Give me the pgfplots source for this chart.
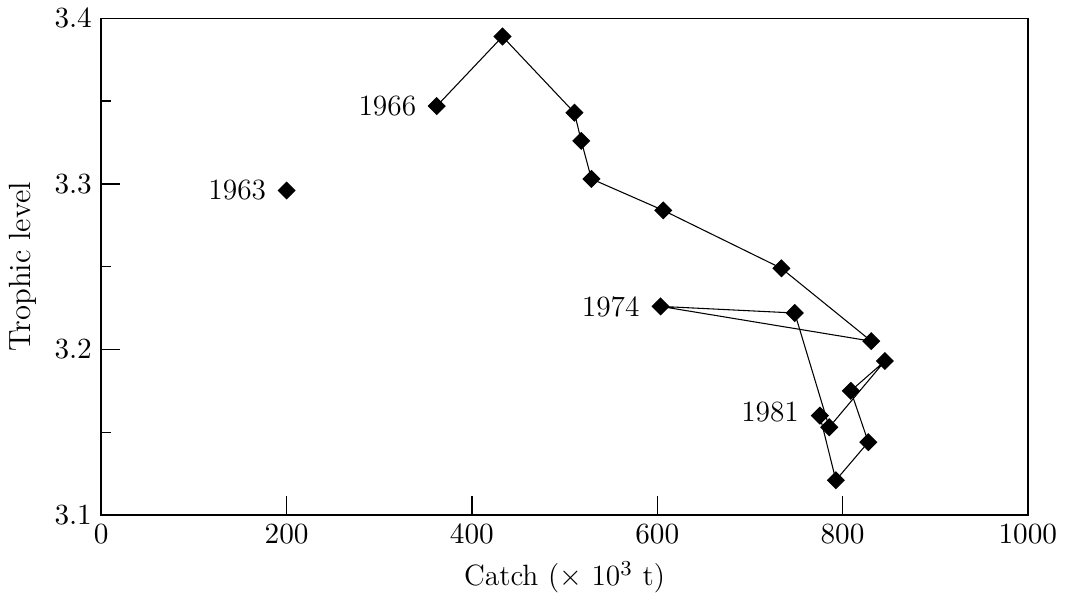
\documentclass[border=0pt]{standalone}
\usepackage{pgfplots}
\pgfplotsset{compat=1.18}
\begin{document}
\begin{tikzpicture}[font=\fontsize{11}{13}\selectfont]
\begin{axis}[
  width=347pt, height=186pt, scale only axis,
  xmin=0, xmax=1000, ymin=3.1, ymax=3.4,
  xtick={0,200,...,1000},
  ytick={3.1,3.2,3.3,3.4},
  minor ytick={3.15,3.25,3.35},
  xtick pos=bottom, ytick pos=left,
  tick align=inside,
  major tick length=7pt, minor tick length=3.5pt,
  every tick/.style={black, line width=0.5pt},
  axis line style={black, line width=0.6pt},
  yticklabel style={/pgf/number format/fixed, /pgf/number format/precision=1, /pgf/number format/fixed zerofill},
  xticklabel style={/pgf/number format/1000 sep={}},
  xlabel={Catch ($\times$ 10$^3$ t)},
  ylabel={Trophic level},
  xlabel style={yshift=0pt},
  ylabel style={yshift=0pt, font=\fontsize{11.5}{13}\selectfont},
  clip=false,
]
\addplot[only marks, mark=square*, mark size=2.2pt, mark options={rotate=45}, black] coordinates {(200,3.296)};
\addplot[black, line width=0.4pt, mark=square*, mark size=2.2pt, mark options={fill=black, rotate=45}] coordinates {
(362,3.347)
(433,3.389)
(510.6,3.343)
(518,3.326)
(529,3.303)
(606.5,3.284)
(734,3.249)
(831,3.205)
(603.6,3.226)
(748.4,3.222)
(785.6,3.153)
(845.7,3.193)
(808.9,3.175)
(827.8,3.144)
(792.8,3.121)
(775.5,3.160)
};
\node[anchor=east] at (axis cs:188,3.296) {1963};
\node[anchor=east] at (axis cs:350,3.347) {1966};
\node[anchor=east] at (axis cs:591,3.226) {1974};
\node[anchor=east] at (axis cs:763,3.162) {1981};
\end{axis}
\end{tikzpicture}
\end{document}
